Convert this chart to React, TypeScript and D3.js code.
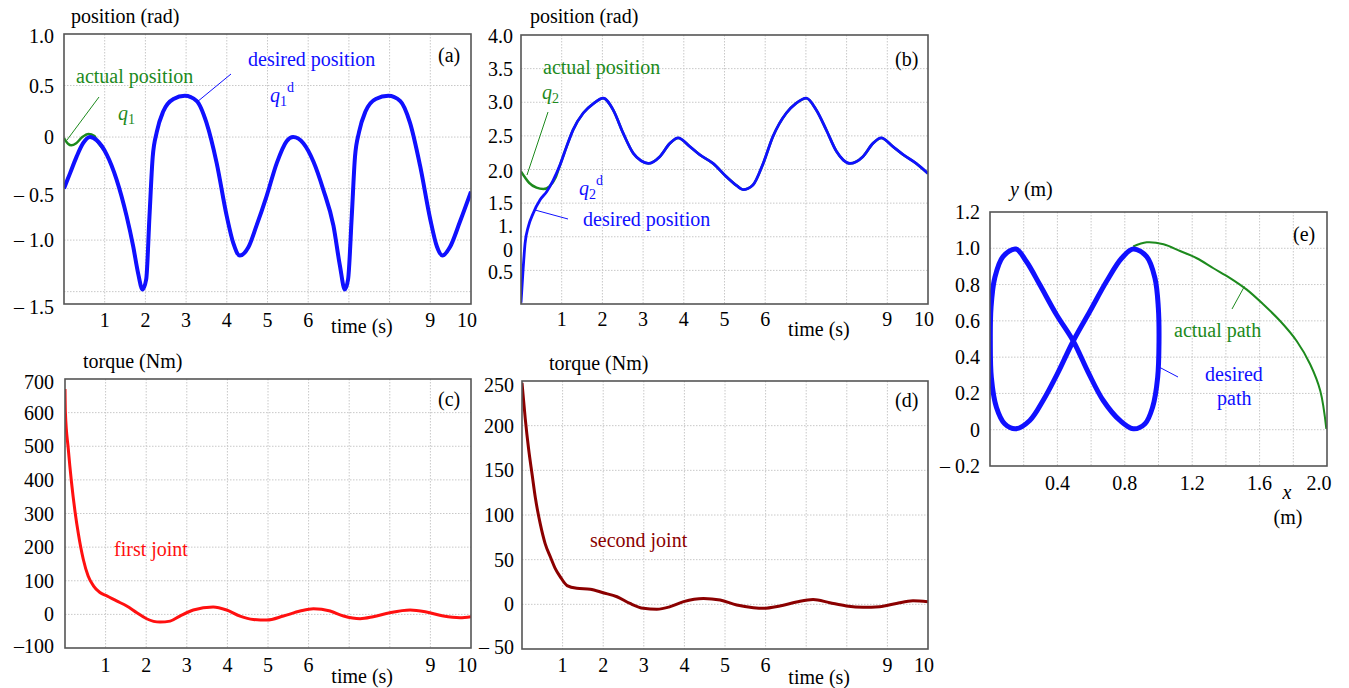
import * as d3 from "d3";

const FONT = '"Liberation Serif", "Times New Roman", serif';
const BLUE = "#1010ff";
const GREEN = "#1d8a1d";
const RED = "#ff1010";
const DARKRED = "#8b0000";

// time axes (panels a-d)
const timeGrid = [1, 2, 3, 4, 5, 6, 7, 8, 9];
const timeTicks = [1, 2, 3, 4, 5, 6, 9, 10];

// (a) joint 1 position
const q1dTime = [0, 0.15, 0.31, 0.47, 0.64, 0.8, 1.05, 1.29, 1.54, 1.7, 1.82, 1.93, 2.02, 2.1, 2.18, 2.28, 2.44, 2.69, 2.97, 3.26, 3.5, 3.75, 4.0, 4.16, 4.32, 4.53, 4.73, 4.98, 5.23, 5.47, 5.63, 5.88, 6.13, 6.37, 6.62, 6.78, 6.9, 6.98, 7.07, 7.15, 7.25, 7.41, 7.66, 7.97, 8.26, 8.5, 8.75, 9.0, 9.16, 9.3, 9.48, 9.73, 10];
const q1dValue = [-0.5, -0.35, -0.19, -0.06, 0, -0.03, -0.17, -0.41, -0.77, -1.06, -1.32, -1.48, -1.38, -0.77, -0.19, 0.05, 0.25, 0.37, 0.4, 0.35, 0.14, -0.25, -0.77, -1.03, -1.15, -1.07, -0.86, -0.57, -0.25, -0.04, 0, -0.06, -0.24, -0.51, -0.86, -1.25, -1.48, -1.38, -0.77, -0.19, 0.05, 0.25, 0.37, 0.4, 0.35, 0.14, -0.28, -0.8, -1.06, -1.15, -1.07, -0.82, -0.53];
const q1Time = [0, 0.1, 0.18, 0.3, 0.45, 0.6, 0.75];
const q1Value = [-0.01, -0.065, -0.08, -0.06, 0, 0.03, 0.01];
const aGrid = [0.5, 0, -0.5, -1.0, -1.5];
const aTickText = ["1.0", "0.5", "0", "– 0.5", "– 1.0", "– 1.5"];
const aTickAt = [0.98, 0.5, 0, -0.56, -1.0, -1.65];

// (b) joint 2 position
const q2dTime = [0, 0.05, 0.1, 0.18, 0.3, 0.47, 0.63, 0.79, 0.96, 1.12, 1.28, 1.53, 1.78, 2.02, 2.27, 2.51, 2.76, 2.95, 3.13, 3.41, 3.66, 3.86, 4.15, 4.39, 4.72, 5.05, 5.3, 5.46, 5.7, 5.95, 6.19, 6.52, 6.75, 7.01, 7.26, 7.5, 7.75, 7.92, 8.08, 8.4, 8.65, 8.85, 9.14, 9.39, 9.71, 10];
const q2dValue = [0.02, 0.5, 0.9, 1.15, 1.35, 1.55, 1.67, 1.84, 2.07, 2.34, 2.59, 2.84, 2.98, 3.06, 2.88, 2.54, 2.24, 2.13, 2.09, 2.19, 2.39, 2.47, 2.34, 2.22, 2.09, 1.89, 1.76, 1.7, 1.77, 2.09, 2.49, 2.84, 2.98, 3.06, 2.88, 2.59, 2.27, 2.14, 2.09, 2.19, 2.39, 2.47, 2.34, 2.22, 2.09, 1.94];
const q2Time = [0, 0.1, 0.2, 0.38, 0.55, 0.7, 0.85];
const q2Value = [1.97, 1.88, 1.8, 1.73, 1.71, 1.75, 1.88];
const bGrid = [0.5, 1, 1.5, 2, 2.5, 3, 3.5];
const bTickText = ["4.0", "3.5", "3.0", "2.5", "2.0", "1.5", "1.", "0", "0.5"];
const bTickAt = [3.98, 3.5, 3.0, 2.5, 1.98, 1.5, 1.16, 0.8, 0.48];

// (c) torque joint 1
const tau1Time = [0, 0.01, 0.08, 0.16, 0.25, 0.33, 0.45, 0.57, 0.7, 0.86, 1.03, 1.27, 1.52, 1.77, 2.01, 2.34, 2.59, 2.83, 3.16, 3.65, 3.98, 4.31, 4.64, 4.97, 5.38, 5.79, 6.12, 6.53, 6.86, 7.27, 7.59, 8.0, 8.5, 8.9, 9.32, 9.73, 10];
const tau1Value = [670, 600, 493, 393, 303, 239, 164, 114, 85, 65, 55, 40, 25, 5, -13, -23, -20, -5, 13, 22, 13, -5, -15, -17, -5, 10, 17, 10, -5, -13, -7, 5, 13, 7, -5, -10, -7];
const cGrid = [0, 100, 200, 300, 400, 500, 600];
const cTickText = ["700", "600", "500", "400", "300", "200", "100", "0", "–100"];
const cTickAt = [690, 600, 500, 400, 300, 200, 100, 0, -95];

// (d) torque joint 2
const tau2Time = [0, 0.08, 0.16, 0.25, 0.33, 0.45, 0.57, 0.7, 0.82, 0.94, 1.11, 1.35, 1.68, 2.0, 2.34, 2.66, 2.99, 3.32, 3.65, 3.98, 4.47, 4.88, 5.29, 5.7, 5.94, 6.35, 6.76, 7.17, 7.58, 7.99, 8.4, 8.81, 9.22, 9.63, 10];
const tau2Value = [248, 208, 175, 145, 119, 90, 68, 53, 40, 31, 21, 18, 17, 13, 8.5, 1, -4.4, -5.5, -2.6, 3, 6.6, 4.8, -0.7, -3.7, -4.4, -1.8, 2.6, 5.5, 1.8, -1.8, -3.3, -2.6, 1, 4, 3];
const dGrid = [0, 50, 100, 150, 200];
const dTickText = ["250", "200", "150", "100", "50", "0", "– 50"];
const dTickAt = [245, 200, 150, 100, 50, 0, -48];

// (e) end-effector path
const pathDesX = [0.494, 0.394, 0.295, 0.216, 0.153, 0.077, 0.028, 0.006, 0.002, 0.008, 0.038, 0.087, 0.153, 0.236, 0.315, 0.404, 0.494, 0.593, 0.692, 0.781, 0.85, 0.93, 0.979, 0.999, 1.003, 0.995, 0.965, 0.92, 0.85, 0.771, 0.672, 0.583];
const pathDesY = [0.489, 0.635, 0.8, 0.927, 0.996, 0.954, 0.836, 0.672, 0.489, 0.288, 0.124, 0.033, 0.005, 0.051, 0.161, 0.316, 0.489, 0.653, 0.818, 0.945, 0.996, 0.954, 0.836, 0.672, 0.489, 0.288, 0.124, 0.033, 0.005, 0.051, 0.161, 0.316];
const pathActX = [0.85, 0.93, 1.03, 1.128, 1.227, 1.326, 1.425, 1.524, 1.623, 1.722, 1.82, 1.9, 1.96, 1.996];
const pathActY = [1.01, 1.033, 1.022, 0.985, 0.945, 0.89, 0.836, 0.772, 0.69, 0.599, 0.489, 0.361, 0.215, 0.005];
const eGridX = [0.2, 0.4, 0.6, 0.8, 1.0, 1.2, 1.4, 1.6, 1.8];
const eGridY = [0, 0.2, 0.4, 0.6, 0.8, 1.0];
const eTicksX = [0.4, 0.8, 1.2, 1.6, 2.0];
const eTickText = ["1.2", "1.0", "0.8", "0.6", "0.4", "0.2", "0", "– 0.2"];
const eTickAt = [1.2, 1.0, 0.8, 0.6, 0.4, 0.2, 0, -0.2];

type Frame = { x0: number; x1: number; y0: number; y1: number };

const zip = (xs: number[], ys: number[]) => xs.map((x, i) => [x, ys[i]] as [number, number]);

function Panel({ id, f, xDomain, yDomain, xGrid, yGrid, children }: any) {
  const x = d3.scaleLinear().domain(xDomain).range([f.x0, f.x1]);
  const y = d3.scaleLinear().domain(yDomain).range([f.y1, f.y0]);
  return (
    <g>
      <defs>
        <clipPath id={id}>
          <rect x={f.x0} y={f.y0} width={f.x1 - f.x0} height={f.y1 - f.y0} />
        </clipPath>
      </defs>
      {xGrid.map((v: number) => (
        <line key={"gx" + v} x1={x(v)} x2={x(v)} y1={f.y0} y2={f.y1} stroke="#c8c8c8" strokeDasharray="1.5,1.5" />
      ))}
      {yGrid.map((v: number) => (
        <line key={"gy" + v} x1={f.x0} x2={f.x1} y1={y(v)} y2={y(v)} stroke="#c8c8c8" strokeDasharray="1.5,1.5" />
      ))}
      <g clipPath={`url(#${id})`}>{children(x, y)}</g>
      <rect x={f.x0} y={f.y0} width={f.x1 - f.x0} height={f.y1 - f.y0} fill="none" stroke="#555" strokeWidth={1.6} />
    </g>
  );
}

function YLabels({ f, yDomain, text, at, xr }: any) {
  const y = d3.scaleLinear().domain(yDomain).range([f.y1, f.y0]);
  return (
    <g textAnchor="end">
      {text.map((t: string, i: number) => (
        <text key={t + i} x={xr} y={y(at[i]) + 7}>{t}</text>
      ))}
    </g>
  );
}

function TimeLabels({ f, dy, tdy }: any) {
  const x = d3.scaleLinear().domain([0, 10]).range([f.x0, f.x1]);
  return (
    <g textAnchor="middle">
      {timeTicks.map((t) => (
        <text key={t} x={x(t) - (t === 10 ? 4 : 0)} y={f.y1 + dy}>{t}</text>
      ))}
      <text x={x(7.32)} y={f.y1 + tdy}>time (s)</text>
    </g>
  );
}

const mono = (x: any, y: any) =>
  d3.line<[number, number]>().x((d) => x(d[0])).y((d) => y(d[1])).curve(d3.curveMonotoneX);

export default function App() {
  const A: Frame = { x0: 64, x1: 471, y0: 34, y1: 304 };
  const B: Frame = { x0: 521, x1: 928, y0: 35, y1: 304 };
  const C: Frame = { x0: 65, x1: 471, y0: 379, y1: 648 };
  const D: Frame = { x0: 522, x1: 928, y0: 381, y1: 649 };
  const E: Frame = { x0: 990, x1: 1327, y0: 212, y1: 466 };

  const aDom = [-1.62, 1.0];
  const bDom = [0, 4];
  const cDom = [-100, 700];
  const dDom = [-50, 250];
  const eDom = [-0.2, 1.2];

  const q1Des = zip(q1dTime, q1dValue);
  const q1Act = zip(q1Time, q1Value).concat(q1Des.filter((d) => d[0] >= 0.8));
  const q2Des = zip(q2dTime, q2dValue);
  const q2Act = zip(q2Time, q2Value).concat(q2Des.filter((d) => d[0] >= 0.96));

  const ex = d3.scaleLinear().domain([0, 2]).range([E.x0, E.x1]);
  const ey = d3.scaleLinear().domain(eDom).range([E.y1, E.y0]);

  return (
    <svg width={1349} height={688} style={{ position: "absolute", left: 0, top: 0, background: "#fff" }} fontFamily={FONT} fontSize={20}>
      {/* (a) */}
      <Panel id="ca" f={A} xDomain={[0, 10]} yDomain={aDom} xGrid={timeGrid} yGrid={aGrid}>
        {(x: any, y: any) => (
          <>
            <path d={mono(x, y)(q1Act) || ""} fill="none" stroke={GREEN} strokeWidth={2.5} />
            <path d={mono(x, y)(q1Des) || ""} fill="none" stroke={BLUE} strokeWidth={4} />
          </>
        )}
      </Panel>
      <YLabels f={A} yDomain={aDom} text={aTickText} at={aTickAt} xr={54} />
      <TimeLabels f={A} dy={23} tdy={29} />
      <text x={71} y={23}>position (rad)</text>
      <text x={438} y={62}>(a)</text>
      <text x={76} y={83} fill={GREEN}>actual position</text>
      <text x={118} y={120} fill={GREEN}><tspan fontStyle="italic">q</tspan><tspan fontSize={14} dy={4}>1</tspan></text>
      <line x1={99} y1={97} x2={67} y2={140} stroke={GREEN} strokeWidth={1} />
      <text x={248} y={66} fill={BLUE}>desired position</text>
      <text x={270} y={102} fill={BLUE}><tspan fontStyle="italic">q</tspan><tspan fontSize={14} dy={4}>1</tspan><tspan fontSize={14} dy={-14}>d</tspan></text>
      <line x1={231} y1={74} x2={197} y2={102} stroke={BLUE} strokeWidth={1} />

      {/* (b) */}
      <Panel id="cb" f={B} xDomain={[0, 10]} yDomain={bDom} xGrid={timeGrid} yGrid={bGrid}>
        {(x: any, y: any) => (
          <>
            <path d={mono(x, y)(q2Act) || ""} fill="none" stroke={GREEN} strokeWidth={2.5} />
            <path d={mono(x, y)(q2Des) || ""} fill="none" stroke={BLUE} strokeWidth={2.8} />
          </>
        )}
      </Panel>
      <YLabels f={B} yDomain={bDom} text={bTickText} at={bTickAt} xr={513} />
      <TimeLabels f={B} dy={22} tdy={32} />
      <text x={530} y={23}>position (rad)</text>
      <text x={895} y={66}>(b)</text>
      <text x={543} y={74} fill={GREEN}>actual position</text>
      <text x={542} y={99} fill={GREEN}><tspan fontStyle="italic">q</tspan><tspan fontSize={14} dy={4}>2</tspan></text>
      <line x1={548} y1={112} x2={527} y2={175} stroke={GREEN} strokeWidth={1} />
      <text x={579} y={195} fill={BLUE}><tspan fontStyle="italic">q</tspan><tspan fontSize={14} dy={4}>2</tspan><tspan fontSize={14} dy={-14}>d</tspan></text>
      <text x={583} y={226} fill={BLUE}>desired position</text>
      <line x1={568} y1={219} x2={535} y2={210} stroke={BLUE} strokeWidth={1} />

      {/* (c) */}
      <Panel id="cc" f={C} xDomain={[0, 10]} yDomain={cDom} xGrid={timeGrid} yGrid={cGrid}>
        {(x: any, y: any) => (
          <path d={mono(x, y)(zip(tau1Time, tau1Value)) || ""} fill="none" stroke={RED} strokeWidth={3} />
        )}
      </Panel>
      <YLabels f={C} yDomain={cDom} text={cTickText} at={cTickAt} xr={54} />
      <TimeLabels f={C} dy={24} tdy={35} />
      <text x={83} y={368}>torque (Nm)</text>
      <text x={438} y={406}>(c)</text>
      <text x={114} y={556} fill={RED}>first joint</text>

      {/* (d) */}
      <Panel id="cd" f={D} xDomain={[0, 10]} yDomain={dDom} xGrid={timeGrid} yGrid={dGrid}>
        {(x: any, y: any) => (
          <path d={mono(x, y)(zip(tau2Time, tau2Value)) || ""} fill="none" stroke={DARKRED} strokeWidth={3} />
        )}
      </Panel>
      <YLabels f={D} yDomain={dDom} text={dTickText} at={dTickAt} xr={514} />
      <TimeLabels f={D} dy={23} tdy={35} />
      <text x={549} y={370}>torque (Nm)</text>
      <text x={895} y={407}>(d)</text>
      <text x={590} y={547} fill={DARKRED}>second joint</text>

      {/* (e) */}
      <Panel id="ce" f={E} xDomain={[0, 2]} yDomain={eDom} xGrid={eGridX} yGrid={eGridY}>
        {(x: any, y: any) => {
          const ln = d3.line<[number, number]>().x((d) => x(d[0])).y((d) => y(d[1]));
          return (
            <>
              <path d={ln.curve(d3.curveCatmullRom)(zip(pathActX, pathActY)) || ""} fill="none" stroke={GREEN} strokeWidth={2} />
              <path d={ln.curve(d3.curveCatmullRomClosed)(zip(pathDesX, pathDesY)) || ""} fill="none" stroke={BLUE} strokeWidth={5} />
            </>
          );
        }}
      </Panel>
      <YLabels f={E} yDomain={eDom} text={eTickText} at={eTickAt} xr={980} />
      <g textAnchor="middle">
        {eTicksX.map((v) => (
          <text key={v} x={ex(v) - (v === 2 ? 8 : 0)} y={E.y1 + 24}>{v.toFixed(1)}</text>
        ))}
      </g>
      <text x={1287} y={499} fontStyle="italic" textAnchor="middle">x</text>
      <text x={1288} y={524} textAnchor="middle">(m)</text>
      <text x={1010} y={196}><tspan fontStyle="italic">y</tspan> (m)</text>
      <text x={1293} y={241}>(e)</text>
      <text x={1174} y={337} fill={GREEN}>actual path</text>
      <line x1={1232} y1={309} x2={ex(1.51)} y2={ey(0.79)} stroke={GREEN} strokeWidth={1} />
      <text x={1205} y={381} fill={BLUE}>desired</text>
      <text x={1217} y={405} fill={BLUE}>path</text>
      <line x1={1178} y1={377} x2={1159} y2={367} stroke={BLUE} strokeWidth={1} />
    </svg>
  );
}
